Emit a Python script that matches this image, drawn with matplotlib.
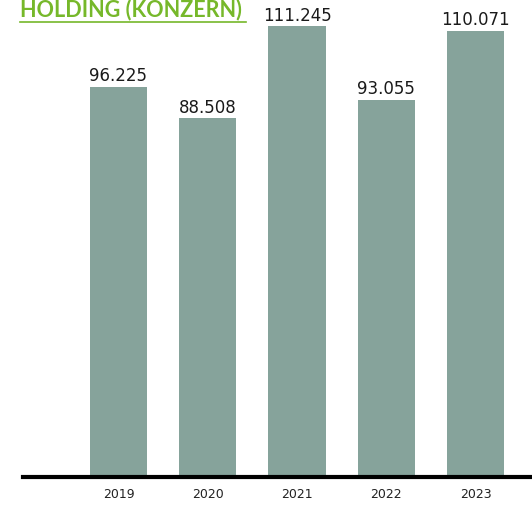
import matplotlib
matplotlib.use("Agg")
import matplotlib.pyplot as plt

years = ["2019", "2020", "2021", "2022", "2023"]
values = [96.225, 88.508, 111.245, 93.055, 110.071]
value_labels = ["96.225", "88.508", "111.245", "93.055", "110.071"]
title = "HOLDING (KONZERN)"

W, H = 532, 507
fig = plt.figure(figsize=(W / 100, H / 100), dpi=100)

# axes spanning from the left end of the baseline to the right edge
ax_left, ax_right = 23, 532
ax_bottom, ax_top = 477, 0
ax = fig.add_axes([ax_left / W, (H - ax_bottom) / H,
                   (ax_right - ax_left) / W, (ax_bottom - ax_top) / H])

x = list(range(len(years)))
bar_color = "#86a39b"
ax.bar(x, values, width=0.64, color=bar_color, zorder=2)

for xi, v, lab in zip(x, values, value_labels):
    ax.text(xi, v + 0.4, lab, ha="center", va="bottom", fontsize=12,
            color="#1a1a1a", family="DejaVu Sans")

ax.set_xlim(-1.07, 4.633)
ax.set_ylim(0, 117.7)
ax.set_xticks(x)
ax.set_xticklabels(years, fontsize=9, color="#222222")
ax.tick_params(axis="x", length=0, pad=8)
ax.set_yticks([])
for side in ["left", "right", "top"]:
    ax.spines[side].set_visible(False)
ax.spines["bottom"].set_linewidth(3)
ax.spines["bottom"].set_color("black")
ax.spines["bottom"].set_zorder(3)

# heading in green, with a thin rule underneath
green = "#76b82a"
fig.text(20 / W, (H - 16) / H, title, ha="left", va="baseline",
         fontsize=15.5, fontweight="bold", color=green, family="Lato")
fig.add_artist(plt.Line2D([20 / W, 246 / W], [(H - 22) / H, (H - 22) / H],
                          color=green, linewidth=1.2))

fig.savefig("out.png", dpi=100)
